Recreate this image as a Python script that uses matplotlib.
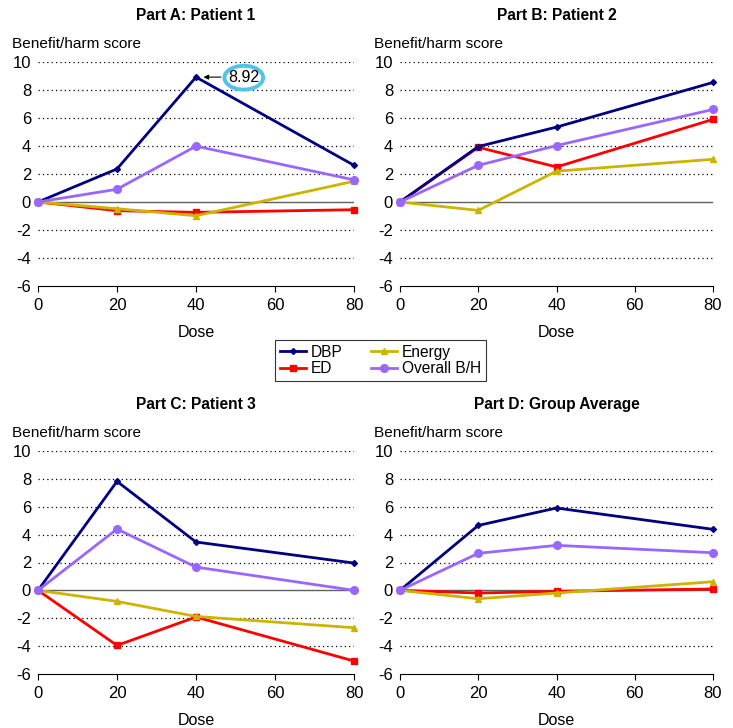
import matplotlib
matplotlib.use("Agg")
import matplotlib.pyplot as plt
from matplotlib.patches import Ellipse

plt.rcParams["font.family"] = ["Liberation Sans", "DejaVu Sans"]
plt.rcParams["font.size"] = 10
plt.rcParams["axes.unicode_minus"] = False

doses = [0, 20, 40, 80]
series_names = ["DBP", "ED", "Energy", "Overall B/H"]
panel_titles = ["Part A: Patient 1", "Part B: Patient 2",
                "Part C: Patient 3", "Part D: Group Average"]

# values, one list per series per panel
dbp_a = [0, 2.36, 8.92, 2.62]
ed_a = [0, -0.62, -0.74, -0.55]
energy_a = [0, -0.48, -0.98, 1.48]
overall_a = [0, 0.91, 3.99, 1.58]

dbp_b = [0, 3.96, 5.35, 8.54]
ed_b = [0, 3.91, 2.5, 5.9]
energy_b = [0, -0.6, 2.2, 3.05]
overall_b = [0, 2.62, 4.03, 6.61]

dbp_c = [0, 7.82, 3.47, 1.96]
ed_c = [0, -3.95, -1.91, -5.07]
energy_c = [0, -0.79, -1.87, -2.68]
overall_c = [0, 4.4, 1.67, 0]

dbp_d = [0, 4.66, 5.91, 4.38]
ed_d = [0, -0.19, -0.07, 0.1]
energy_d = [0, -0.6, -0.19, 0.62]
overall_d = [0, 2.66, 3.23, 2.7]

panels = [
    [dbp_a, ed_a, energy_a, overall_a],
    [dbp_b, ed_b, energy_b, overall_b],
    [dbp_c, ed_c, energy_c, overall_c],
    [dbp_d, ed_d, energy_d, overall_d],
]

colors = ["#000080", "#FF0000", "#CCB400", "#9966FF"]
markers = ["D", "s", "^", "o"]
msizes = [3, 4, 5, 5.5]
zorders = [4, 3, 5, 6]

yticks = list(range(-6, 11, 2))
xticks = [0, 20, 40, 60, 80]

fig = plt.figure(figsize=(7.33, 7.28), dpi=100)
W, H = 733, 728
# pixel boxes (left, top, right, bottom) of each plot area
boxes = [(38, 62, 354, 286), (400, 62, 713, 286),
         (38, 451, 354, 674), (400, 451, 713, 674)]

handles = []
for i, (box, data) in enumerate(zip(boxes, panels)):
    l, t, r, b = box
    ax = fig.add_axes([l / W, 1 - b / H, (r - l) / W, (b - t) / H])
    ax.set_xlim(0, 80)
    ax.set_ylim(-6, 10)
    for y in yticks:
        if y == 0:
            ax.axhline(0, color="#606060", lw=1, zorder=1)
        elif y > -6:
            ax.axhline(y, color="black", lw=0.9, ls=(0, (1, 2.5)), zorder=1)
    for k, vals in enumerate(data):
        h, = ax.plot(doses, vals, color=colors[k], marker=markers[k],
                     ms=msizes[k], lw=2, label=series_names[k],
                     zorder=zorders[k], clip_on=False)
        if i == 0:
            handles.append(h)
    for s in ["top", "right", "left"]:
        ax.spines[s].set_visible(False)
    ax.spines["bottom"].set_color("black")
    ax.set_xticks(xticks)
    ax.set_yticks(yticks)
    ax.tick_params(axis="x", direction="out", length=4, labelsize=12, pad=5)
    ax.tick_params(axis="y", length=0, labelsize=12, pad=5)
    ax.set_xlabel("Dose", fontsize=11.5, labelpad=8)
    ax.set_title(panel_titles[i], fontsize=11.2, fontweight="bold", pad=30)
    ax.text(-0.083, 1.08, "Benefit/harm score", transform=ax.transAxes,
            fontsize=11.1, ha="left", va="center")

    if i == 0:
        ax.annotate("", xy=(41.2, dbp_a[2]), xytext=(47, dbp_a[2]),
                    arrowprops=dict(arrowstyle="-|>", color="black", lw=0.8,
                                    mutation_scale=7), zorder=7)
        ax.add_patch(Ellipse((52.1, 8.88), 9.8, 1.7, fill=False,
                             edgecolor="#4FC3E8", lw=2.8, zorder=7,
                             clip_on=False))
        ax.text(52.1, 8.88, "%.2f" % dbp_a[2], ha="center",
                va="center", fontsize=11.5, zorder=8)

leg = fig.legend(handles=handles, labels=series_names,
                 ncol=2, loc="center", bbox_to_anchor=(0.519, 0.5048),
                 frameon=True, fancybox=False, edgecolor="black",
                 fontsize=11.2, handlelength=1.7, columnspacing=1.8,
                 borderpad=0.3, labelspacing=0.1, handletextpad=0.3)
leg.get_frame().set_linewidth(0.8)

fig.savefig("out.png", dpi=100)
